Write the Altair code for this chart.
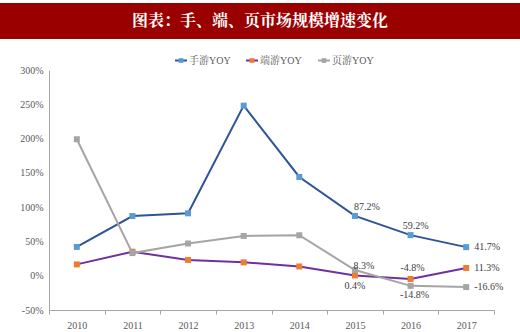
import altair as alt
import pandas as pd

years = ["2010", "2011", "2012", "2013", "2014", "2015", "2016", "2017"]
series_names = ["手游YOY", "端游YOY", "页游YOY"]
mobile = [42, 87, 91, 248, 144, 87.2, 59.2, 41.7]
pc = [16.5, 35, 23, 19.5, 13.5, 0.4, -4.8, 11.3]
web = [199, 33, 47, 58, 59, 8.3, -14.8, -16.6]
label_years = ["2015", "2016", "2017"]
y_ticks = [-50, 0, 50, 100, 150, 200, 250, 300]
title_text = "图表：手、端、页市场规模增速变化"

line_colors = ["#2f5597", "#7030a0", "#a5a5a5"]
marker_colors = ["#5b9bd5", "#ed7d31", "#a5a5a5"]

rows = []
for s, vals in zip(series_names, [mobile, pc, web]):
    for y, v in zip(years, vals):
        rows.append({"series": s, "year": y, "value": v, "label": f"{v:.1f}%"})
df = pd.DataFrame(rows)

FONT = "'Liberation Serif', 'Noto Serif CJK SC', 'Noto Sans CJK SC', serif"
W, H = 445, 240

x_enc = alt.X("year:O", scale=alt.Scale(type="band", domain=years, paddingInner=0, paddingOuter=0),
              axis=alt.Axis(title=None, labelAngle=0, tickBand="extent", domainColor="#a6a6a6",
                            tickColor="#a6a6a6", tickSize=4, labelColor="#595959",
                            labelFont=FONT, labelFontSize=10, labelPadding=6, grid=False))
y_enc = alt.Y("value:Q", scale=alt.Scale(domain=[-50, 300], nice=False, zero=False),
              axis=alt.Axis(title=None, values=y_ticks, labelExpr="datum.value + '%'", grid=False,
                            ticks=False, domainColor="#a6a6a6", labelColor="#595959",
                            labelFont=FONT, labelFontSize=10, labelPadding=6))

base = alt.Chart(df)
layers = []
for i, s in enumerate(series_names):
    sd = base.transform_filter(alt.datum.series == s)
    layers.append(sd.mark_line(strokeWidth=2, color=line_colors[i]).encode(x=x_enc, y=y_enc))
    layers.append(sd.mark_point(shape="square", filled=True, size=36, opacity=1,
                                color=marker_colors[i]).encode(x=x_enc, y=y_enc))

# data label placement (style)
placement = {
    ("手游YOY", "2015"): (12, -9, "center"),
    ("手游YOY", "2016"): (5, -9, "center"),
    ("手游YOY", "2017"): (8, 0, "left"),
    ("端游YOY", "2015"): (0, 11, "center"),
    ("端游YOY", "2016"): (2, -11, "center"),
    ("端游YOY", "2017"): (8, 0, "left"),
    ("页游YOY", "2015"): (9, -4, "center"),
    ("页游YOY", "2016"): (4, 9, "center"),
    ("页游YOY", "2017"): (8, 0, "left"),
}
for (s, yr), (dx, dy, al) in placement.items():
    layers.append(base.transform_filter((alt.datum.series == s) & (alt.datum.year == yr))
                  .mark_text(dx=dx, dy=dy, align=al, baseline="middle", font=FONT,
                             fontSize=10, color="#404040")
                  .encode(x=x_enc, y=y_enc, text="label:N"))

# title bar
tdf = pd.DataFrame({"t": [title_text]})
layers.append(alt.Chart(tdf).mark_rect(color="#9a0000").encode(
    x=alt.value(-49), x2=alt.value(471), y=alt.value(-67), y2=alt.value(-31)))
layers.append(alt.Chart(tdf).mark_text(color="white", fontSize=16, fontWeight="bold",
                                       font=FONT, align="center", baseline="middle")
              .encode(x=alt.value(211), y=alt.value(-49), text="t:N"))

# legend
leg_x = [126, 197, 269]
for i, s in enumerate(series_names):
    ldf = pd.DataFrame({"s": [s]})
    lx = leg_x[i]
    layers.append(alt.Chart(ldf).mark_rule(strokeWidth=2, color=line_colors[i]).encode(
        x=alt.value(lx), x2=alt.value(lx + 12), y=alt.value(-9.5)))
    layers.append(alt.Chart(ldf).mark_point(shape="square", filled=True, size=22, opacity=1,
                                            color=marker_colors[i]).encode(
        x=alt.value(lx + 6), y=alt.value(-9.5)))
    layers.append(alt.Chart(ldf).mark_text(align="left", baseline="middle", font=FONT,
                                           fontSize=10, color="#595959").encode(
        x=alt.value(lx + 14), y=alt.value(-9.5), text="s:N"))

chart = alt.layer(*layers).properties(
    width=W, height=H,
    autosize=alt.AutoSizeParams(type="none"),
    padding={"left": 49, "top": 70, "right": 26, "bottom": 22},
    background="white",
).configure_view(stroke=None)

chart.save("out.html", embed_options={"renderer": "svg", "actions": False})
